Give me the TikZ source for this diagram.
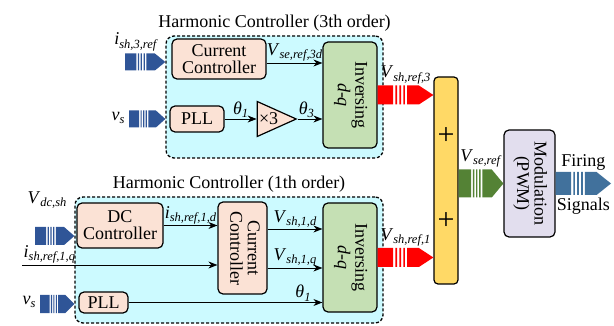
\documentclass[tikz,border=0pt]{standalone}
\usepackage{fontspec}
\setmainfont{Liberation Serif}
\usepackage{tikz}
\usetikzlibrary{shapes.geometric,arrows.meta,positioning,calc}

\definecolor{hcfill}{RGB}{204,250,255}
\definecolor{peach}{RGB}{251,226,213}
\definecolor{invgreen}{RGB}{197,224,180}
\definecolor{modlav}{RGB}{226,222,238}
\definecolor{sumyel}{RGB}{255,217,102}
\definecolor{inblue}{RGB}{47,85,151}
\definecolor{outred}{RGB}{255,0,0}
\definecolor{vgreen}{RGB}{84,130,53}
\definecolor{fsblue}{RGB}{65,113,156}

\newcommand{\hcfont}{\fontsize{18}{17}\selectfont}
\newcommand{\vlabel}[1]{\rotatebox{-90}{\begin{tabular}{@{}c@{}}#1\end{tabular}}}
% italic symbol with italic subscript
\newcommand{\vsym}[2]{\textit{#1}\raisebox{-0.4ex}{\fontsize{12.5}{12}\selectfont\textit{#2}}}
% striped block arrow: colour, from, to, half height
\newcommand{\bandarrow}[4]{%
  \fill[#1] let \p1=(#2), \p2=(#3), \n1={\x2-\x1}, \n2={#4*1pt} in
    (\x1,\y1-\n2) rectangle (\x1+0.28*\n1,\y1+\n2)
    (\x1+0.32*\n1,\y1-\n2) rectangle (\x1+0.35*\n1,\y1+\n2)
    (\x1+0.39*\n1,\y1-\n2) rectangle (\x1+0.42*\n1,\y1+\n2)
    (\x1+0.46*\n1,\y1-\n2) rectangle (\x1+0.49*\n1,\y1+\n2)
    (\x1+0.53*\n1,\y1-\n2) -- (\x1+0.74*\n1,\y1-\n2) -- (\x2,\y1)
      -- (\x1+0.74*\n1,\y1+\n2) -- (\x1+0.53*\n1,\y1+\n2) -- cycle;
}

\tikzset{
  ctrlbox/.style={
    rectangle, rounded corners=5pt, draw=black, line width=1.2pt, fill=peach,
    align=center, font=\hcfont, inner sep=1pt
  },
  invbox/.style={ctrlbox, fill=invgreen},
  modbox/.style={ctrlbox, fill=modlav},
  sumbar/.style={ctrlbox, fill=sumyel, rounded corners=4pt},
  gain/.style={
    isosceles triangle, isosceles triangle stretches, draw=black, line width=1.2pt,
    fill=peach, font=\hcfont, inner sep=0pt
  },
  region/.style={
    rectangle, rounded corners=8pt, draw=black, line width=1.3pt,
    dash pattern=on 3pt off 2pt, fill=hcfill
  },
  sig/.style={-{Stealth[length=9pt,width=7pt]}, line width=0.9pt},
  lbl/.style={font=\hcfont, inner sep=1pt},
  plus/.style={font=\fontsize{30}{30}\selectfont, inner sep=0pt},
}

\begin{document}
\begin{tikzpicture}[x=1pt, y=-1pt]
  \useasboundingbox (0,0) rectangle (614,326);

  % controller areas
  \node (hc3) [region, minimum width=217pt, minimum height=122pt] at (274.5,97) {};
  \node (hc1) [region, minimum width=308pt, minimum height=126pt] at (229,260) {};
  \node (t3) [font=\hcfont, above=0pt of hc3] {Harmonic Controller (3th order)};
  \node (t1) [font=\hcfont, above=0pt of hc1] {Harmonic Controller (1th order)};

  % 3th order
  \node (cc3)  [ctrlbox, minimum width=94pt, minimum height=40pt] at (219,59) {Current\\Controller};
  \node (pll3) [ctrlbox, minimum width=54pt, minimum height=26pt] at (197,119) {PLL};
  \node (tri)  [gain, minimum width=35pt, minimum height=39pt, right=32pt of pll3] {×3};
  \node (inv3) [invbox, minimum width=54pt, minimum height=106pt] at (350,95) {\vlabel{Inversing\\\textit{d-q}}};

  % 1th order
  \node (dc)   [ctrlbox, minimum width=86pt, minimum height=45pt] at (120,225.5) {DC\\Controller};
  \node (cc1)  [ctrlbox, minimum width=49pt, minimum height=92pt] at (242.5,248) {\vlabel{Current\\Controller}};
  \node (pll1) [ctrlbox, minimum width=49pt, minimum height=21pt] at (103.5,302.5) {PLL};
  \node (inv1) [invbox, minimum width=54pt, minimum height=109pt] at (350,257.5) {\vlabel{Inversing\\\textit{d-q}}};

  % summation and PWM
  \node (sum) [sumbar, minimum width=24pt, minimum height=207pt] at (446,180.5) {};
  \node (pa)  [plus] at (446,136) {+};
  \node (pb)  [plus] at (446,221) {+};
  \node (mod) [modbox, minimum width=51pt, minimum height=107pt] at (529.5,183.5) {\vlabel{Modulation\\(PWM)}};

  % inputs
  \coordinate (in3) at (125,62);
  \coordinate (vs3) at (129,119);
  \coordinate (vdc) at (35,236);
  \coordinate (vs1) at (40,304);
  \coordinate (iq)  at (22,265);
  \coordinate (fs)  at (611,184.5);
  \node (lin3) [lbl] at (136,42)  {\vsym{i}{sh,3,ref}};
  \node (lvs3) [lbl] at (118,118) {\vsym{v}{s}};
  \node (lvdc) [lbl] at (47,200)  {\vsym{V}{dc,sh}};
  \node (lvs1) [lbl] at (29,302)  {\vsym{v}{s}};

  \bandarrow{inblue}{in3}{hc3.west |- in3}{8.5}
  \bandarrow{inblue}{vs3}{hc3.west |- vs3}{8.5}
  \bandarrow{inblue}{vdc}{hc1.west |- vdc}{9}
  \bandarrow{inblue}{vs1}{hc1.west |- vs1}{9}
  \bandarrow{outred}{inv3.east}{inv3.east -| sum.west}{9.5}
  \bandarrow{outred}{inv1.east}{inv1.east -| sum.west}{9.5}
  \bandarrow{vgreen}{sum.east |- mod.west}{mod.west}{14}
  \bandarrow{fsblue}{mod.east}{fs}{11.5}

  \path (inv3.east) -- (inv3.east -| sum.west) node[lbl, midway, above=10pt] {\vsym{V}{sh,ref,3}};
  \path (inv1.east) -- (inv1.east -| sum.west) node[lbl, midway, above=10pt] {\vsym{V}{sh,ref,1}};
  \path (sum.east |- mod.west) -- (mod.west) node[lbl, midway, above=15pt] {\vsym{V}{se,ref}};
  \path (mod.east) -- (fs) node[font=\hcfont, midway, above=10pt] {Firing}
                           node[font=\hcfont, midway, below=10pt] {Signals};

  % signal lines
  \coordinate (v3d) at ([yshift=-4pt]cc3.east);
  \coordinate (vd1) at ([yshift=19pt]cc1.east);
  \coordinate (vq1) at ([yshift=-20pt]cc1.east);
  \draw[sig] (v3d) -- node[lbl, above] {\vsym{V}{se,ref,3d}} (v3d -| inv3.west);
  \draw[sig] (pll3.east) -- node[lbl, above] {\vsym{θ}{1}} (pll3.east -| tri.west);
  \draw[sig] (tri.east) -- node[lbl, above, pos=0.35] {\vsym{θ}{3}} (tri.east -| inv3.west);
  \draw[sig] (dc.east) -- node[lbl, above] {\vsym{i}{sh,ref,1,d}} (dc.east -| cc1.west);
  \draw[sig] (iq) -- node[lbl, above, pos=0.14] {\vsym{i}{sh,ref,1,q}} (iq -| cc1.west);
  \draw[sig] (vd1) -- node[lbl, above] {\vsym{V}{sh,1,d}} (vd1 -| inv1.west);
  \draw[sig] (vq1) -- node[lbl, above] {\vsym{V}{sh,1,q}} (vq1 -| inv1.west);
  \draw[sig] (pll1.east) -- node[lbl, above, pos=0.9] {\vsym{θ}{1}} (pll1.east -| inv1.west);
\end{tikzpicture}
\end{document}
